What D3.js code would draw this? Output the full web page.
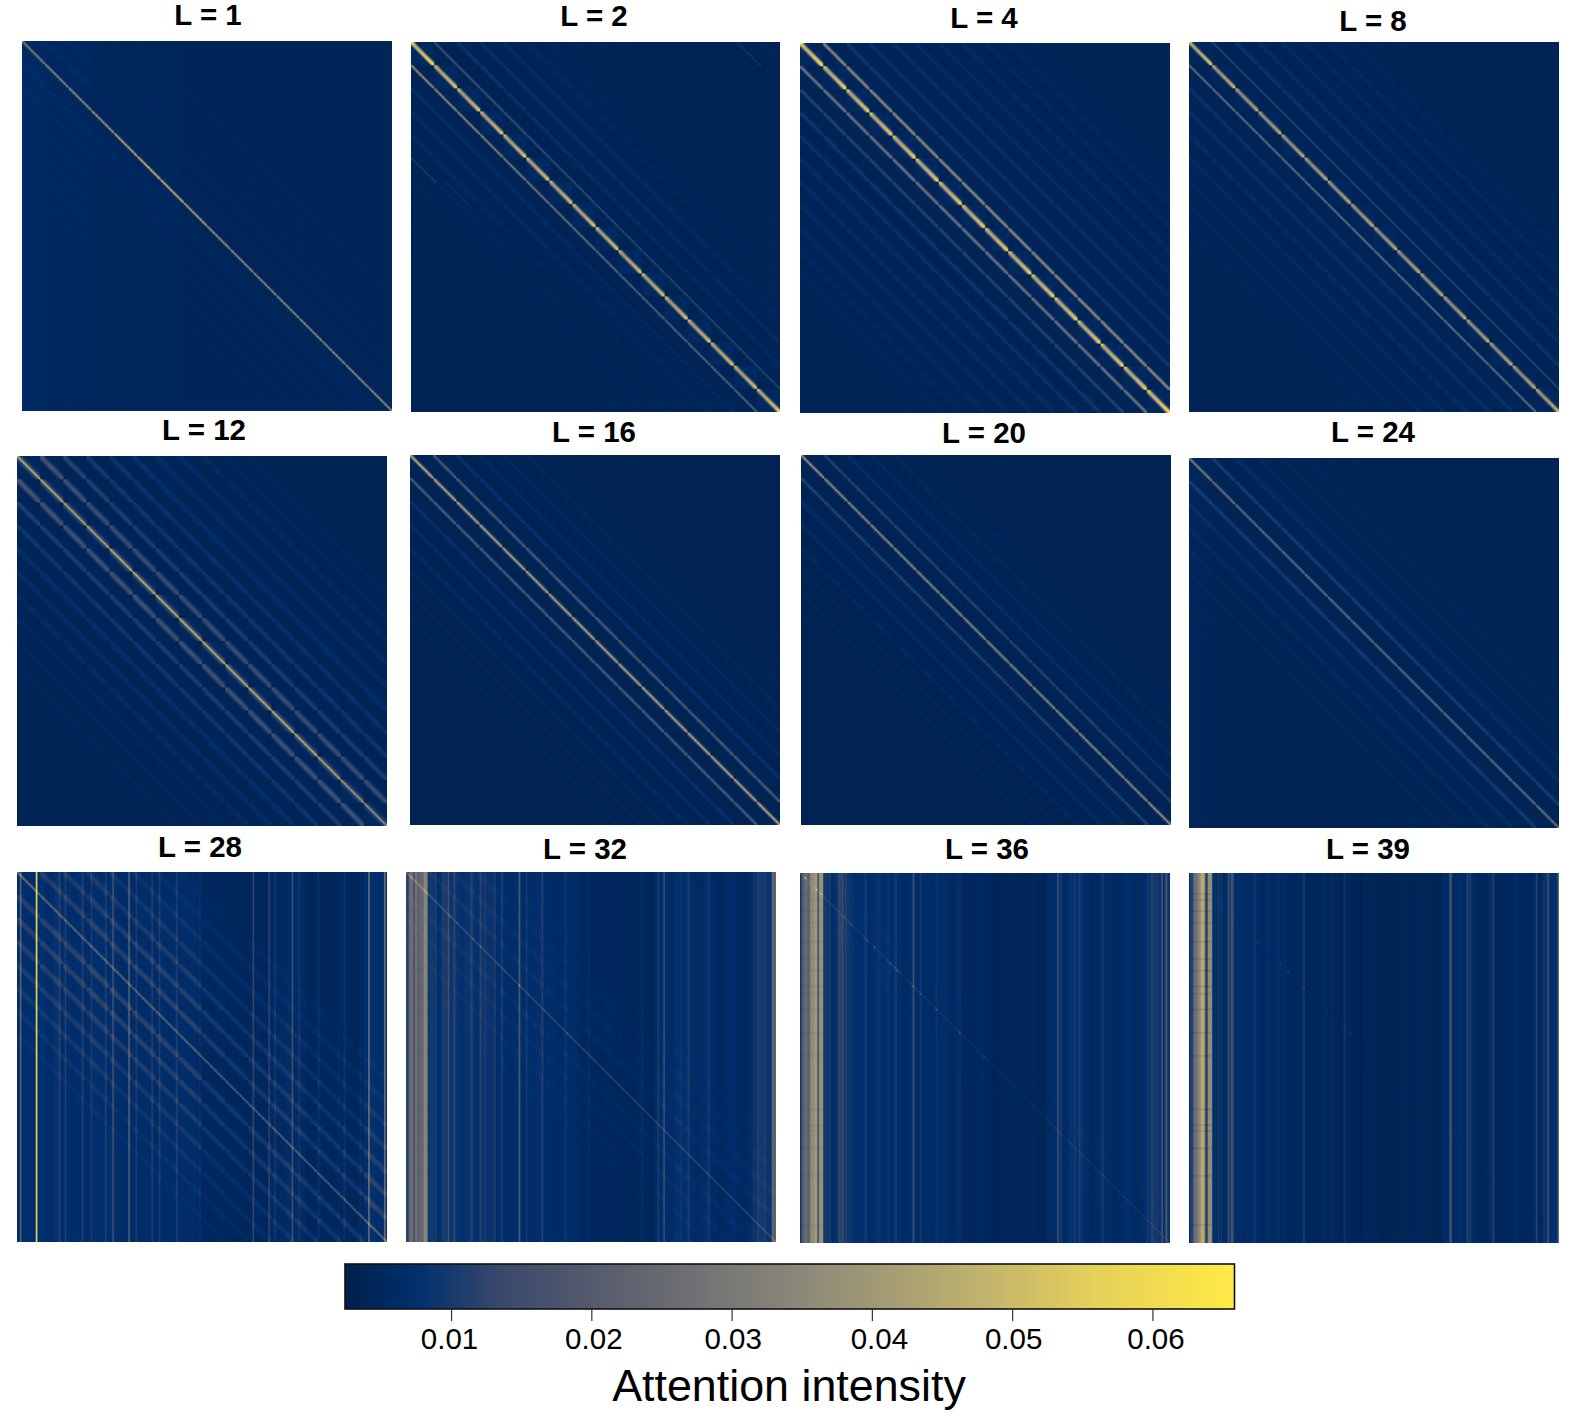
<!DOCTYPE html>
<html>
<head>
<meta charset="utf-8">
<script src="https://cdnjs.cloudflare.com/ajax/libs/d3/7.8.5/d3.min.js"></script>
<style>
html, body { margin: 0; padding: 0; background: white; }
#chart { position: relative; width: 1570px; height: 1418px; overflow: hidden; }
#chart canvas { position: absolute; filter: blur(0.45px); }
#chart svg { position: absolute; left: 0; top: 0; }
</style>
</head>
<body>
<div id="chart"></div>
<script>
// ---- data (attention values, 16 x 16 = 256 tokens per axis) ----
var layers = [1, 2, 4, 8, 12, 16, 20, 24, 28, 32, 36, 39];

// diagonal strength per block, down the main diagonal
var mainL1 = [.032, .034, .036, .04, .048, .054, .052, .046, .04, .037, .036, .036, .036, .036, .036, .038];
var mainL2 = [.052, .046, .044, .044, .044, .044, .043, .044, .044, .043, .043, .043, .043, .043, .043, .046];
var mainL4 = [.052, .048, .047, .047, .047, .047, .047, .047, .047, .047, .047, .047, .047, .047, .047, .052];
var mainL8 = [.05, .044, .04, .04, .04, .04, .04, .04, .04, .04, .04, .04, .04, .04, .04, .044];
var mainL12 = [.052, .05, .047, .047, .052, .052, .052, .054, .052, .052, .052, .052, .05, .047, .042, .038];
var mainL16 = [.05, .048, .046, .046, .046, .046, .046, .046, .046, .046, .046, .046, .046, .046, .046, .048];
var mainL20 = [.042, .038, .036, .036, .036, .036, .036, .036, .036, .036, .036, .036, .036, .036, .036, .04];
var mainL24 = [.032, .028, .026, .026, .026, .026, .026, .026, .026, .026, .026, .026, .026, .026, .026, .028];
var mainL28 = [.024, .022, .02, .02, .02, .02, .02, .02, .02, .02, .02, .02, .02, .02, .02, .022];
var mainL32 = [.018, .014, .011, .011, .011, .011, .011, .011, .01, .01, .01, .01, .01, .01, .01, .012];
var mainL36 = [.006, .005, .004, .004, .004, .004, .004, .004, .004, .004, .004, .004, .004, .004, .004, .004];
var mainL39 = [.002, .001, .001, .001, .001, .001, .001, .001, .001, .001, .001, .001, .001, .001, .001, .001];

// off-diagonal bands, by block distance from the main diagonal
var upperL1 = [.0014, .001, .0008, .0006, .0005, .0003];
var lowerL1 = [.0016, .0012, .0008, .0006, .0005, .0003];
var upperL2 = [.017, .0055, .005, .0038, .0024, .0017, .0013, .001, .0007];
var lowerL2 = [.038, .0045, .004, .0032, .0026, .002, .0014, .001, .0007];
var upperL4 = [.034, .0062, .0052, .0046, .004, .0034, .0028, .0024, .002, .0015, .001];
var lowerL4 = [.026, .0085, .006, .005, .004, .0034, .0028, .0024, .002, .0015, .001];
var upperL8 = [.011, .005, .0042, .0035, .0028, .0022, .0017, .0012, .0008];
var lowerL8 = [.028, .005, .0042, .0035, .0029, .0023, .0018, .0013, .0008];
var upperL12 = [.011, .0072, .0056, .0046, .0038, .0032, .0026, .0021, .0016, .001];
var lowerL12 = [.0125, .0072, .0056, .0042, .0032, .0026, .002, .0014, .001];
var upperL16 = [.019, .0052, .0036, .003, .0023, .0018, .0013, .0009];
var lowerL16 = [.019, .0052, .0036, .003, .0023, .0018, .0013, .0009];
var upperL20 = [.0095, .0045, .0032, .0024, .0018, .0013, .001];
var lowerL20 = [.0095, .0045, .0032, .0024, .0018, .0013, .001];
var upperL24 = [.0072, .0042, .0028, .0022, .0017, .0012, .0008];
var lowerL24 = [.0072, .0042, .0028, .0022, .0017, .0012, .0008];
var upperL28 = [.0052, .0048, .0042, .0034, .0026, .0018, .0011];
var lowerL28 = [.0052, .0048, .0042, .0034, .0026, .0018, .0011];
var upperL32 = [.0013, .0011, .0008, .0005];
var lowerL32 = [.0013, .0011, .0008, .0005];
var upperL36 = [.0003];
var lowerL36 = [.0003];
var upperL39 = [];
var lowerL39 = [];

// how far each band spreads sideways, in cells from its centre
var mainWidthL1 = [1, .22];
var mainWidthL2 = [1, .85, .34];
var mainWidthL4 = [1, .9, .42, .08];
var mainWidthL8 = [1, .72, .22];
var mainWidthL12 = [1, .32, .16, .1, .06];
var mainWidthL16 = [1, .38, .1];
var mainWidthL20 = [1, .3, .06];
var mainWidthL24 = [1, .3];
var mainWidthL28 = [1, .2];
var mainWidthThin = [1];
var firstWidthL2 = [1, .3];
var firstWidthL4 = [1, .6, .12];
var firstWidthL8 = [1, .24];
var firstWidthL12 = [1, .9, .62, .32, .1];
var firstWidthL16 = [1, .45, .1];
var firstWidthL20 = [1, .6, .16];
var firstWidthL28 = [1, .9, .6, .25];
var offWidthNarrow = [1, .65, .15];
var offWidthWide = [1, .9, .6, .25];
var offWidthMid = [1, .75, .3];

// brightness along one block of the main diagonal and of the bands
var beadThick = [1.12, .94, .88, .86, .86, .88, .9, .92, .94, .96, 1, 1, 1.02, 1.06, 1.14, 1.18];
var beadFlat = [1, 1, 1, 1, 1, 1, 1, 1, 1, 1, 1, 1, 1, 1, 1, 1];
var beadSoft = [1.12, 1, .95, .95, .97, 1, 1.02, 1.04, 1.04, 1.02, 1, .97, .95, .95, 1, 1.12];

// off-diagonal strength down the picture, per block row
var fadeL2 = [1, 1, .95, .9, .85, .8, .75, .7, .65, .6, .55, .55, .55, .55, .55, .55];
var fadeL12 = [1.2, 1.1, 1.05, 1, 1, 1, 1, 1, 1, 1, 1, 1, 1, 1, 1, 1];
var fadeL28 = [.85, .9, 1, 1.05, 1.1, 1.1, 1.1, 1.1, 1.05, 1, 1, 1, 1, 1, 1, 1];
var fadeNone = [1, 1, 1, 1, 1, 1, 1, 1, 1, 1, 1, 1, 1, 1, 1, 1];

// column background runs [first, last + 1, value]
var runsL1 = [[0, 16, .0056], [16, 48, .0052], [48, 110, .0046], [110, 256, .0041]];
var runsL2 = [[0, 256, .0038]];
var runsL4 = [[0, 256, .0038]];
var runsL8 = [[0, 256, .0038]];
var runsL12 = [[0, 256, .0038]];
var runsL16 = [[0, 256, .0034]];
var runsL20 = [[0, 256, .0034]];
var runsL24 = [[0, 16, .0042], [16, 256, .0036]];
var runsL28 = [[0, 70, .0072], [70, 125, .0068], [125, 145, .0052], [145, 165, .0046], [165, 180, .0052], [180, 200, .0056], [200, 240, .0048], [240, 256, .0072]];
var runsL32 = [[0, 2, .012], [2, 5, .026], [5, 6, .014], [6, 8, .027], [8, 9, .019], [9, 11, .025], [11, 12, .022], [12, 15, .034],
  [15, 60, .0084], [60, 95, .0072], [95, 120, .0064], [120, 145, .0052], [145, 172, .0046], [172, 210, .0066], [210, 240, .0058], [240, 253, .0084], [253, 256, .022]];
var runsL36 = [[0, 1, .009], [1, 3, .02], [3, 5, .026], [5, 7, .022], [7, 10, .036], [10, 12, .04], [12, 13, .012], [13, 16, .038],
  [16, 40, .0084], [40, 70, .0074], [70, 90, .0068], [90, 110, .006], [110, 130, .0052], [130, 150, .0044], [150, 170, .0042], [170, 185, .006], [185, 200, .0068], [200, 240, .0062], [240, 256, .0085]];
var runsL39 = [[0, 1, .008], [1, 3, .012], [3, 6, .027], [6, 8, .034], [8, 11, .045], [11, 13, .012], [13, 16, .037],
  [16, 50, .0064], [50, 80, .0054], [80, 110, .0048], [110, 175, .004], [175, 200, .0056], [200, 245, .0052], [245, 256, .0074]];

// small light and dark column runs shared by the late layers [first, last + 1, change]
var rippleCols = [[16, 19, .0012], [21, 24, -.001], [26, 30, .0018], [32, 34, .0012], [37, 40, -.0008], [44, 46, .0012], [48, 50, -.0008],
  [53, 56, .001], [60, 62, .0012], [65, 67, .0012], [70, 74, -.0008], [77, 79, .001], [85, 88, -.0006], [92, 95, .001], [98, 100, .0008],
  [104, 107, -.0006], [109, 112, .001], [118, 121, -.0006], [125, 127, .0006], [133, 137, -.0005], [147, 150, .0005], [160, 164, .0008],
  [168, 172, -.0005], [176, 180, .001], [186, 190, .0014], [192, 196, .0014], [200, 204, -.0008], [207, 211, .0012], [216, 220, -.0006],
  [224, 228, .001], [232, 235, -.0005], [238, 241, .0012], [244, 248, .0012]];

// single bright columns [column, extra value]
var stripesL1 = [[16, .0006], [32, .0005], [62, .0006], [94, .0005], [127, .0004], [158, .0004], [190, .0004]];
var stripesL28 = [[2, .016], [13, .055], [29, .004], [33, .003], [45, .0035], [51, .0035], [61, .004], [66, .01], [77, .016], [82, .004],
  [93, .004], [98, .0035], [110, .004], [126, .003], [163, .008], [174, .0075], [178, .004], [190, .011], [195, .003], [208, .003],
  [222, .002], [226, .003], [237, .003], [243, .024], [254, .024]];
var stripesL32 = [[20, .003], [25, .003], [29, .006], [33, .003], [45, .003], [51, .004], [61, .003], [66, .003], [78, .01], [83, .003],
  [94, .003], [110, .002], [126, .002], [163, .002], [174, .004], [178, .009], [190, .003], [195, .003], [209, .003], [243, .004], [248, .003]];
var stripesL36 = [[20, .003], [27, .005], [29, .006], [31, .004], [45, .002], [66, .002], [78, .008], [83, .003], [94, .002], [110, .002],
  [178, .011], [180, .005], [190, .003], [193, .003], [209, .003], [243, .005], [250, .01], [253, .012]];
var stripesL39 = [[20, .005], [22, .005], [27, .009], [29, .011], [30, .008], [45, .002], [62, .002], [79, .006], [107, .005], [121, .002],
  [180, .012], [181, .008], [192, .006], [194, .005], [210, .006], [240, .006], [248, .01], [255, .016]];

// rows where the bright left columns dip [row]
var dipRows = [14, 18, 26, 34, 47, 59, 67, 78, 83, 94, 110, 126, 163, 174, 178, 190, 209, 243];

// isolated bright points on the diagonal [cell, extra value]
var dotsL32 = [[3, .02], [14, .03], [30, .012], [35, .012], [46, .01], [51, .008], [63, .01], [68, .008], [78, .014], [84, .008], [95, .008], [111, .01], [127, .006]];
var dotsL36 = [[3, .05], [11, .02], [14, .05], [30, .012], [35, .012], [46, .012], [51, .01], [62, .012], [65, .01], [67, .012], [78, .014], [83, .012], [94, .012], [110, .009], [127, .008]];
var dotsL39 = [[47, .006], [63, .007], [68, .008], [79, .01], [84, .005], [95, .004], [111, .005]];

// short extra streaks in L = 2 [column minus row, first row, last row, value]
var streaksL2 = [[-80, 80, 96, .006], [-73, 96, 112, .005], [226, 0, 16, .006], [242, 0, 12, .003], [179, 32, 62, .003], [150, 64, 90, .002], [-140, 160, 176, .002]];

var colorValues = [.00244, .0077, .0135, .0205, .0275, .0345, .0415, .0485, .0555, .06585];
var colorHexes = ["#00204D", "#00306F", "#39486B", "#575C6D", "#707173", "#8A8779", "#A69D75", "#C4B56C", "#E4CF5B", "#FFEA46"];
var legendTicks = [.01, .02, .03, .04, .05, .06];
var tickLabelShift = [-2, 2, 1, 7, 1, 3];

// ---- layout ----
var panelLeft = [22, 410.5, 800, 1189, 17, 410, 801, 1189, 17, 406, 800, 1189];
var panelTop = [41, 42, 43, 42, 456, 455, 455, 458, 872, 872, 873, 873];
var titleCenter = [208, 594, 984, 1373, 204, 594, 984, 1373, 200, 585, 987, 1368];
var titleBase = [25, 26, 28, 31, 440, 442, 443, 442, 857, 859, 859, 859];
var panelSize = 369.5;
var cells = 256;

var panels = [
  { main: mainL1, upper: upperL1, lower: lowerL1, mainWidth: mainWidthL1, firstWidth: offWidthMid, offWidth: offWidthMid, bead: beadFlat, offBead: beadFlat, fade: fadeNone, runs: runsL1, stripes: stripesL1, tint: 0, ripple: 0, dip: 1 },
  { main: mainL2, upper: upperL2, lower: lowerL2, mainWidth: mainWidthL2, firstWidth: firstWidthL2, offWidth: offWidthNarrow, bead: beadThick, offBead: beadFlat, fade: fadeL2, runs: runsL2, stripes: [], tint: .0016, ripple: 0, dip: 1, streaks: streaksL2 },
  { main: mainL4, upper: upperL4, lower: lowerL4, mainWidth: mainWidthL4, firstWidth: firstWidthL4, offWidth: offWidthMid, bead: beadThick, offBead: beadFlat, fade: fadeNone, runs: runsL4, stripes: [], tint: .0012, ripple: 0, dip: 1 },
  { main: mainL8, upper: upperL8, lower: lowerL8, mainWidth: mainWidthL8, firstWidth: firstWidthL8, offWidth: offWidthMid, bead: beadThick, offBead: beadFlat, fade: fadeNone, runs: runsL8, stripes: [], tint: .001, ripple: 0, dip: 1 },
  { main: mainL12, upper: upperL12, lower: lowerL12, mainWidth: mainWidthL12, firstWidth: firstWidthL12, offWidth: offWidthWide, bead: beadFlat, offBead: beadSoft, fade: fadeL12, runs: runsL12, stripes: [], tint: .001, ripple: 0, dip: 1 },
  { main: mainL16, upper: upperL16, lower: lowerL16, mainWidth: mainWidthL16, firstWidth: firstWidthL16, offWidth: offWidthMid, bead: beadFlat, offBead: beadSoft, fade: fadeNone, runs: runsL16, stripes: [], tint: .0005, ripple: 0, dip: 1 },
  { main: mainL20, upper: upperL20, lower: lowerL20, mainWidth: mainWidthL20, firstWidth: firstWidthL20, offWidth: offWidthMid, bead: beadFlat, offBead: beadSoft, fade: fadeNone, runs: runsL20, stripes: [], tint: .0004, ripple: 0, dip: 1 },
  { main: mainL24, upper: upperL24, lower: lowerL24, mainWidth: mainWidthL24, firstWidth: offWidthMid, offWidth: offWidthMid, bead: beadFlat, offBead: beadSoft, fade: fadeNone, runs: runsL24, stripes: [], tint: .0003, ripple: 0, dip: 1 },
  { main: mainL28, upper: upperL28, lower: lowerL28, mainWidth: mainWidthL28, firstWidth: firstWidthL28, offWidth: offWidthWide, bead: beadFlat, offBead: beadSoft, fade: fadeL28, runs: runsL28, stripes: stripesL28, tint: 0, ripple: .6, dip: 1 },
  { main: mainL32, upper: upperL32, lower: lowerL32, mainWidth: mainWidthThin, firstWidth: offWidthWide, offWidth: offWidthWide, bead: beadFlat, offBead: beadSoft, fade: fadeNone, runs: runsL32, stripes: stripesL32, tint: 0, ripple: 1, dip: .97, dots: dotsL32 },
  { main: mainL36, upper: upperL36, lower: lowerL36, mainWidth: mainWidthThin, firstWidth: offWidthWide, offWidth: offWidthWide, bead: beadFlat, offBead: beadFlat, fade: fadeNone, runs: runsL36, stripes: stripesL36, tint: 0, ripple: 1.1, dip: .93, dots: dotsL36 },
  { main: mainL39, upper: upperL39, lower: lowerL39, mainWidth: mainWidthThin, firstWidth: offWidthWide, offWidth: offWidthWide, bead: beadFlat, offBead: beadFlat, fade: fadeNone, runs: runsL39, stripes: stripesL39, tint: 0, ripple: 1, dip: .84, dots: dotsL39 }
];

var color = d3.scaleLinear().domain(colorValues).range(colorHexes).clamp(true);

var chart = d3.select("#chart");
var svg = chart.append("svg").attr("width", 1570).attr("height", 1418);

function columnValues(p) {
  var col = new Array(cells).fill(0);
  p.runs.forEach(function (run) {
    for (var c = run[0]; c < run[1]; c++) col[c] = run[2];
  });
  rippleCols.forEach(function (run) {
    for (var c = run[0]; c < run[1]; c++) col[c] += run[2] * p.ripple;
  });
  p.stripes.forEach(function (s) { col[s[0]] += s[1]; });
  return col;
}

function cellValue(p, col, r, c) {
  var rb = r >> 4, cb = c >> 4, lr = r & 15, lc = c & 15;
  var dl = Math.abs(lc - lr), k = cb - rb;
  var v = col[c];
  if (c < 16 && p.dip < 1 && dipRows.indexOf(r) >= 0) v *= p.dip;
  if (k === 0) {
    v += p.tint;
    if (dl < p.mainWidth.length) v += p.main[rb] * p.mainWidth[dl] * p.bead[lr];
  } else {
    var strength = k > 0 ? p.upper[k - 1] : p.lower[-k - 1];
    var w = Math.abs(k) === 1 ? p.firstWidth : p.offWidth;
    if (strength && dl < w.length) v += strength * w[dl] * p.fade[rb] * p.offBead[lr];
  }
  return v;
}

function drawPanel(p, i) {
  var canvas = chart.append("canvas")
    .attr("width", cells)
    .attr("height", cells)
    .style("left", panelLeft[i] + "px")
    .style("top", panelTop[i] + "px")
    .style("width", panelSize + "px")
    .style("height", panelSize + "px");
  var ctx = canvas.node().getContext("2d");
  var x = d3.scaleBand().domain(d3.range(cells)).range([0, cells]);
  var y = d3.scaleBand().domain(d3.range(cells)).range([0, cells]);
  var col = columnValues(p);
  for (var r = 0; r < cells; r++) {
    for (var c = 0; c < cells; c++) {
      ctx.fillStyle = color(cellValue(p, col, r, c));
      ctx.fillRect(x(c), y(r), x.bandwidth(), y.bandwidth());
    }
  }
  (p.dots || []).forEach(function (d) {
    ctx.fillStyle = color(cellValue(p, col, d[0], d[0]) + d[1]);
    ctx.fillRect(x(d[0]), y(d[0]), x.bandwidth(), y.bandwidth());
  });
  (p.streaks || []).forEach(function (s) {
    for (var q = s[1]; q <= s[2]; q++) {
      var cc = q + s[0];
      if (cc < 0 || cc >= cells) continue;
      ctx.fillStyle = color(cellValue(p, col, q, cc) + s[3]);
      ctx.fillRect(x(cc), y(q), x.bandwidth(), y.bandwidth());
    }
  });
}

panels.forEach(drawPanel);

svg.selectAll(".panel-title")
  .data(layers)
  .enter()
  .append("text")
  .attr("class", "panel-title")
  .attr("x", function (d, i) { return titleCenter[i]; })
  .attr("y", function (d, i) { return titleBase[i]; })
  .attr("text-anchor", "middle")
  .style("font-family", "'Liberation Sans', Arial, sans-serif")
  .style("font-weight", "bold")
  .style("font-size", "29.5px")
  .text(function (d) { return "L = " + d; });

// colour bar
var barLeft = 345, barRight = 1234.5, barTop = 1264, barBottom = 1309;
var legendX = d3.scaleLinear().domain([.00244, .06585]).range([barLeft, barRight]);

var gradient = svg.append("defs").append("linearGradient").attr("id", "bar-fill");
gradient.selectAll("stop")
  .data(colorValues)
  .enter()
  .append("stop")
  .attr("offset", function (d) { return (legendX(d) - barLeft) / (barRight - barLeft); })
  .attr("stop-color", function (d) { return color(d); });

svg.append("rect")
  .attr("x", barLeft)
  .attr("y", barTop)
  .attr("width", barRight - barLeft)
  .attr("height", barBottom - barTop)
  .style("fill", "url(#bar-fill)")
  .style("stroke", "#111")
  .style("stroke-width", 1.6);

var legendAxis = d3.axisBottom(legendX)
  .tickValues(legendTicks)
  .tickFormat(d3.format(".2f"))
  .tickSize(12)
  .tickPadding(7);

var axisG = svg.append("g")
  .attr("transform", "translate(0," + barBottom + ")")
  .call(legendAxis);
axisG.select(".domain").remove();
axisG.selectAll("line").style("stroke", "#333").style("stroke-width", 1.2);
axisG.selectAll("text")
  .attr("fill", "black")
  .attr("dx", function (d, i) { return tickLabelShift[i]; })
  .style("font-family", "'Liberation Sans', Arial, sans-serif")
  .style("font-size", "29.5px");

svg.append("text")
  .attr("x", 789)
  .attr("y", 1401)
  .attr("text-anchor", "middle")
  .style("font-family", "'Liberation Sans', Arial, sans-serif")
  .style("font-size", "44.8px")
  .text("Attention intensity");
</script>
</body>
</html>
